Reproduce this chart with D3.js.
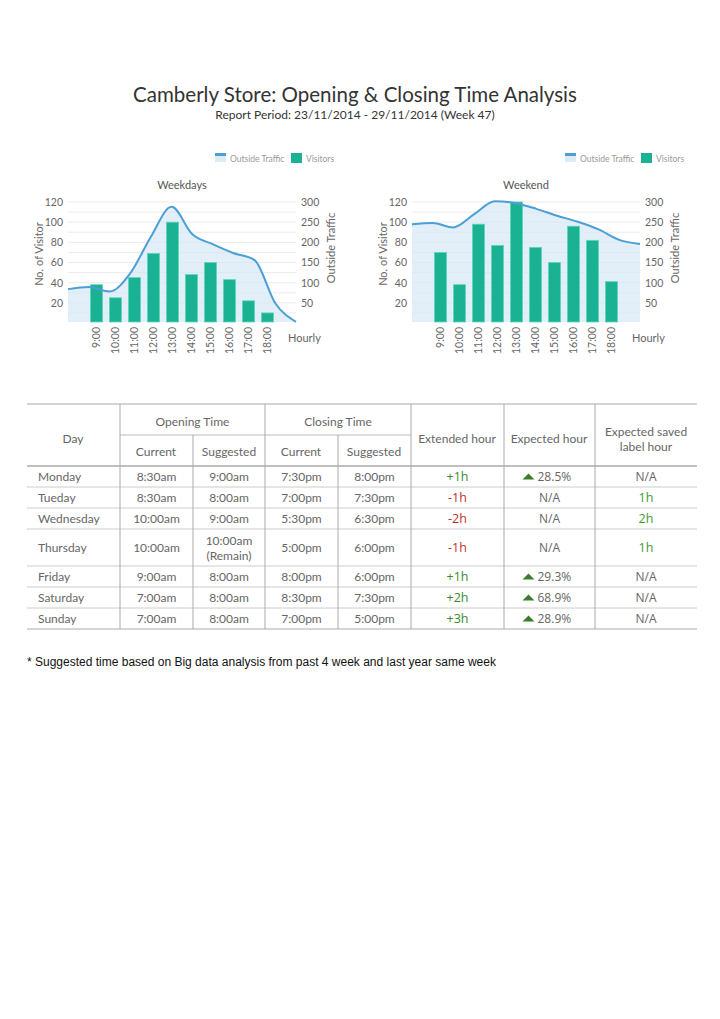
<!DOCTYPE html>
<html><head><meta charset="utf-8">
<script src="https://cdn.jsdelivr.net/npm/d3@7"></script>
<style>
body{margin:0;background:#fff;}
</style></head>
<body><svg id="c" width="720" height="1019" font-family="Lato, 'Open Sans', sans-serif"></svg>
<script>
const hours = ["8:00","9:00","10:00","11:00","12:00","13:00","14:00","15:00","16:00","17:00","18:00","19:00"];
const barHours = ["9:00","10:00","11:00","12:00","13:00","14:00","15:00","16:00","17:00","18:00"];
const weekdayVisitors = [38,25,45,69,100,48,60,43,22,10];
const weekendVisitors = [70,38,98,77,120,75,60,96,82,41];
const weekdayTraffic = [84,89,78,123,214,288,220,195,173,156,49,3];
const weekendTraffic = [245,248,237,270,302,297,283,266,251,232,206,196];
const leftTicks = [20,40,60,80,100,120];
const rightTicks = [50,100,150,200,250,300];

const tableDays = ["Monday","Tueday","Wednesday","Thursday","Friday","Saturday","Sunday"];
const openCurrent = ["8:30am","8:30am","10:00am","10:00am","9:00am","7:00am","7:00am"];
const openSuggested = ["9:00am","8:00am","9:00am","10:00am\n(Remain)","8:00am","8:00am","8:00am"];
const closeCurrent = ["7:30pm","7:00pm","5:30pm","5:00pm","8:00pm","8:30pm","7:00pm"];
const closeSuggested = ["8:00pm","7:30pm","6:30pm","6:00pm","6:00pm","7:30pm","5:00pm"];
const extendedHour = ["+1h","-1h","-2h","-1h","+1h","+2h","+3h"];
const expectedHour = ["28.5%","N/A","N/A","N/A","29.3%","68.9%","28.9%"];
const savedHour = ["N/A","1h","2h","1h","N/A","N/A","N/A"];

const svg = d3.select("#c");
svg.append("text").attr("x",355).attr("y",102).attr("text-anchor","middle")
  .attr("font-size",20.5).attr("fill","#333").text("Camberly Store: Opening & Closing Time Analysis");
svg.append("text").attr("x",355).attr("y",119).attr("text-anchor","middle")
  .attr("font-size",12).attr("fill","#333").text("Report Period: 23/11/2014 - 29/11/2014 (Week 47)");

function drawChart(ox, title, visitors, traffic, legendX){
  const L = ox, R = ox+228, T = 202, B = 322;
  const g = svg.append("g");
  const yL = d3.scaleLinear().domain([0,120]).range([B+1,T]);
  const yR = d3.scaleLinear().domain([0,300]).range([B+1,T]);
  const xb = d3.scaleBand().domain(hours).range([L,R]).paddingInner(0.36).paddingOuter(0.18);
  const xp = d3.scalePoint().domain(hours).range([L,R]);
  const gridVals = d3.range(10,121,10);
  g.selectAll(".gl").data(gridVals).join("line")
    .attr("x1",L).attr("x2",R).attr("y1",d=>yL(d)).attr("y2",d=>yL(d))
    .attr("stroke","#ebebeb").attr("stroke-width",1);
  const curve = d3.curveMonotoneX;
  const area = d3.area().x((d,i)=>xp(hours[i])).y0(B).y1(d=>yR(d)).curve(curve);
  const line = d3.line().x((d,i)=>xp(hours[i])).y(d=>yR(d)).curve(curve);
  g.append("path").datum(traffic).attr("d",area).attr("fill","#d7e8f5").attr("opacity",0.7);
  g.selectAll(".bar").data(visitors).join("rect")
    .attr("x",(d,i)=>xb(barHours[i])).attr("width",xb.bandwidth())
    .attr("y",d=>yL(d)).attr("height",d=>B-yL(d))
    .attr("fill","#1bb294").attr("stroke","#5fd6bb").attr("stroke-width",0.8);
  g.append("path").datum(traffic).attr("d",line).attr("fill","none").attr("stroke","#4b9fd5").attr("stroke-width",2);
  const axL = d3.axisLeft(yL).tickValues(leftTicks).tickSize(0).tickPadding(5);
  const gl = g.append("g").attr("transform",`translate(${L},0)`).call(axL);
  gl.select(".domain").remove();
  gl.selectAll("text").attr("font-size",10.5).attr("fill","#666").attr("font-family","Lato,sans-serif");
  const axR = d3.axisRight(yR).tickValues(rightTicks).tickSize(0).tickPadding(5);
  const gr = g.append("g").attr("transform",`translate(${R},0)`).call(axR);
  gr.select(".domain").remove();
  gr.selectAll("text").attr("font-size",10.5).attr("fill","#666").attr("font-family","Lato,sans-serif");
  const axB = d3.axisBottom(xb).tickValues(barHours).tickSize(0).tickPadding(0);
  const gb = g.append("g").attr("transform",`translate(0,${B})`).call(axB);
  gb.select(".domain").remove();
  gb.selectAll("text").attr("font-size",10.5).attr("fill","#666").attr("font-family","Lato,sans-serif")
    .attr("transform","rotate(-90)").attr("text-anchor","end").attr("dy","0.35em").attr("x",-5).attr("y",0);
  g.append("text").attr("x",R-8).attr("y",342).attr("font-size",11).attr("fill","#666").text("Hourly");
  g.append("text").attr("transform",`translate(${L-25},${(T+B)/2-8}) rotate(-90)`).attr("text-anchor","middle")
    .attr("font-size",11).attr("fill","#666").text("No. of Visitor");
  g.append("text").attr("transform",`translate(${R+39},${(T+B)/2-14}) rotate(-90)`).attr("text-anchor","middle")
    .attr("font-size",11).attr("fill","#666").text("Outside Traffic");
  g.append("text").attr("x",(L+R)/2).attr("y",189).attr("text-anchor","middle")
    .attr("font-size",11).attr("fill","#555").text(title);
  const lg = g.append("g").attr("transform",`translate(${legendX},153)`);
  lg.append("rect").attr("x",0).attr("y",0).attr("width",11).attr("height",9).attr("fill","#ddebf7");
  lg.append("rect").attr("x",0).attr("y",0).attr("width",11).attr("height",3).attr("fill","#4b9fd5");
  lg.append("text").attr("x",15).attr("y",8.5).attr("font-size",8.5).attr("fill","#999").text("Outside Traffic");
  lg.append("rect").attr("x",76).attr("y",0).attr("width",11).attr("height",10).attr("fill","#1bb294");
  lg.append("text").attr("x",91).attr("y",8.5).attr("font-size",8.5).attr("fill","#999").text("Visitors");
}
drawChart(68,"Weekdays",weekdayVisitors,weekdayTraffic,215);
drawChart(412,"Weekend",weekendVisitors,weekendTraffic,565);

const cols = [27,120,193,265,338,411,504,595,697];
const rowB = [466,487,508,529,566,587,608,629];
const tg = svg.append("g");
function hline(x1,x2,y,c,w){tg.append("line").attr("x1",x1).attr("x2",x2).attr("y1",y).attr("y2",y).attr("stroke",c).attr("stroke-width",w);}
function vline(x,y1,y2,c,w){tg.append("line").attr("x1",x).attr("x2",x).attr("y1",y1).attr("y2",y2).attr("stroke",c).attr("stroke-width",w);}
hline(27,697,404,"#aaa",1.2);
hline(120,411,435,"#bbb",1);
hline(27,697,466,"#aaa",1.5);
rowB.slice(1).forEach((y,i)=>hline(27,697,y,i===rowB.length-2?"#aaa":"#ccc",1));
[120,193,265,338,411,504,595].forEach(x=>{
  const top = (x===193||x===338)?435:404;
  vline(x,top,629,"#aaa",1);
});
function ttext(x,y,s,opt={}){
  const t = tg.append("text").attr("x",x).attr("y",y).attr("text-anchor",opt.anchor||"middle")
    .attr("font-size",opt.size||12).attr("fill",opt.fill||"#666").attr("dominant-baseline","central");
  if(opt.family) t.attr("font-family",opt.family);
  const lines = s.split("\n");
  if(lines.length===1) t.text(s);
  else lines.forEach((l,i)=>t.append("tspan").attr("x",x).attr("y",y+(i-(lines.length-1)/2)*15).text(l));
  return t;
}
ttext(73,438,"Day");
ttext(192.5,421,"Opening Time");
ttext(338,421,"Closing Time");
ttext(156,451,"Current");
ttext(229,451,"Suggested");
ttext(301,451,"Current");
ttext(374,451,"Suggested");
ttext(457,438,"Extended hour");
ttext(549,438,"Expected hour");
ttext(646,438,"Expected saved\nlabel hour");
const colMid = c=>(cols[c]+cols[c+1])/2;
tableDays.forEach((d,i)=>{
  const y = (rowB[i]+rowB[i+1])/2;
  ttext(38,y,d,{anchor:"start"});
  ttext(colMid(1),y,openCurrent[i]);
  ttext(colMid(2),y,openSuggested[i]);
  ttext(colMid(3),y,closeCurrent[i]);
  ttext(colMid(4),y,closeSuggested[i]);
  const ext = extendedHour[i];
  ttext(colMid(5),y,ext,{fill: ext[0]==="+"?"#3a8a2c":"#c0302a",size:12.5,family:"'Open Sans',sans-serif"});
  const eh = expectedHour[i];
  if(eh==="N/A") ttext(colMid(6),y,eh,{family:"'Open Sans',sans-serif"});
  else {
    const cx = colMid(6);
    tg.append("path").attr("d",`M${cx-27},${y+3} L${cx-21},${y-3} L${cx-15},${y+3} Z`).attr("fill","#3a7d2f");
    ttext(cx-12,y,eh,{anchor:"start",family:"'Open Sans',sans-serif"});
  }
  const sh = savedHour[i];
  ttext(colMid(7),y,sh,{fill: sh==="N/A"?"#666":"#3f9a32",size: sh==="N/A"?12:12.5,family:"'Open Sans',sans-serif"});
});
svg.append("text").attr("x",27).attr("y",666).attr("font-size",12).attr("fill","#111")
  .attr("font-family","'Liberation Sans',Arial,sans-serif")
  .text("* Suggested time based on Big data analysis from past 4 week and last year same week");
</script></body></html>
